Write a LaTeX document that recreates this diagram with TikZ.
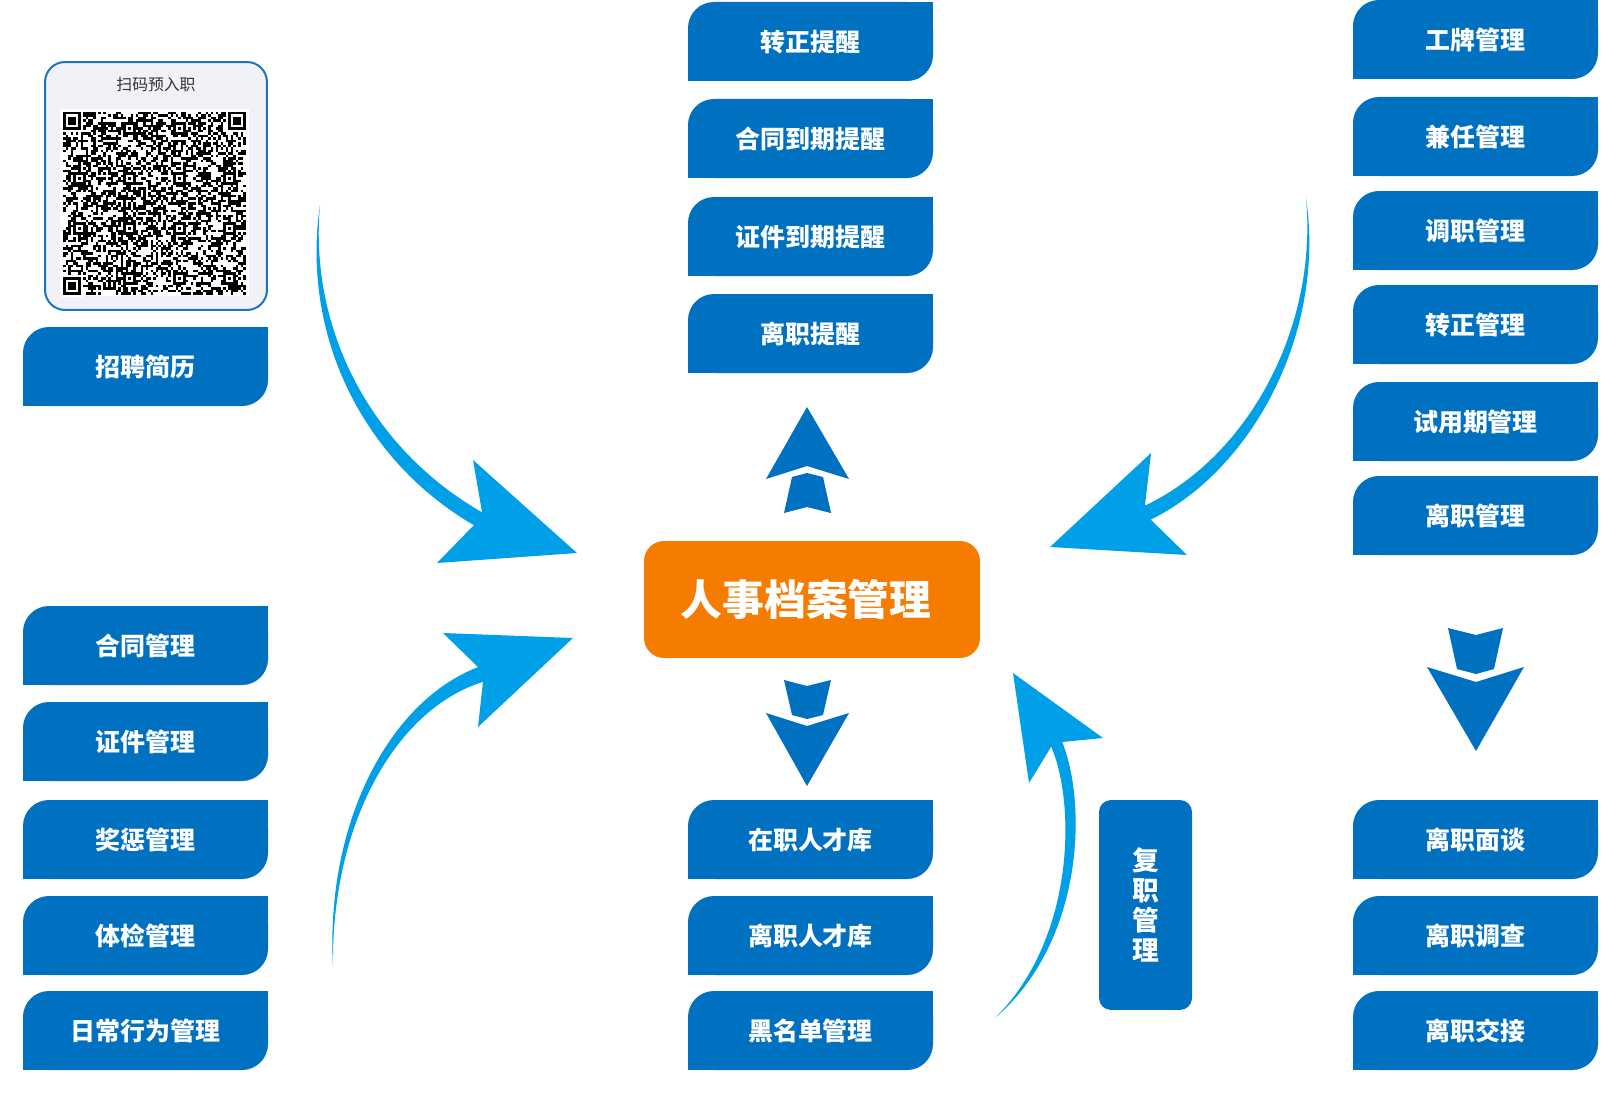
\documentclass[tikz,border=0pt]{standalone}
\usepackage{fontspec}
\newfontfamily\cjk{Noto Sans CJK SC}
\usetikzlibrary{calc}
\definecolor{boxblue}{RGB}{0,112,192}
\definecolor{arrowblue}{RGB}{0,160,233}
\definecolor{orng}{RGB}{245,124,0}
\definecolor{qrbg}{RGB}{240,242,247}
\definecolor{qrborder}{RGB}{28,117,188}
\definecolor{captiongray}{RGB}{50,50,50}
\newcommand\bluebox[4]{%
  \fill[boxblue,rounded corners=0.52cm] (#2,#3) rectangle ++(245,79);
  \fill[boxblue] ($(#2,#3)+(195,0)$) rectangle ++(50,50);
  \fill[boxblue] ($(#2,#3)+(0,29)$) rectangle ++(50,50);
  \node[boxtext] (#1) at ($(#2,#3)+(122.5,40)$) {#4};
}
\begin{document}
\begin{tikzpicture}[x=0.02cm,y=-0.02cm,
  boxtext/.style={text=white,inner sep=0pt,font=\cjk\bfseries\fontsize{14.2pt}{16pt}\selectfont},
  curvearrow/.style={fill=arrowblue},
  straightarrow/.style={fill=boxblue}]
\fill[white] (0,0) rectangle (1622,1115);
\useasboundingbox (0,0) rectangle (1622,1115);

% ---------- QR panel ----------
\node[draw=qrborder,fill=qrbg,line width=0.04cm,rounded corners=0.4cm,
      minimum width=4.44cm,minimum height=4.96cm,inner sep=0pt] (qr) at (156,186) {};
\node[text=captiongray,inner sep=0pt,font=\cjk\fontsize{9pt}{10pt}\selectfont] (qrcap) at (156,85) {扫码预入职};
\fill[white] (60,109) rectangle (249,296);
\pgfmathsetseed{4242}
\foreach \i in {0,...,72}{\foreach \j in {0,...,72}{%
  \pgfmathrandominteger{\rr}{0}{1}%
  \ifnum\rr=1 \fill[black] (63+\i*2.5,112+\j*2.5) rectangle ++(2.5,2.5);\fi
}}
\foreach \fx/\fy in {0/0,66/0,0/66}{%
  \fill[white] (63+\fx*2.5-2.5,112+\fy*2.5-2.5) rectangle ++(22.5,22.5);
  \fill[black] (63+\fx*2.5,112+\fy*2.5) rectangle ++(17.5,17.5);
  \fill[white] (63+\fx*2.5+2.5,112+\fy*2.5+2.5) rectangle ++(12.5,12.5);
  \fill[black] (63+\fx*2.5+5,112+\fy*2.5+5) rectangle ++(7.5,7.5);
}
\foreach \cx/\cy in {26/6,46/6,6/26,26/26,46/26,66/26,6/46,26/46,46/46,66/46,26/66,46/66,66/66}{%
  \fill[black] (63+\cx*2.5-5,112+\cy*2.5-5) rectangle ++(12.5,12.5);
  \fill[white] (63+\cx*2.5-2.5,112+\cy*2.5-2.5) rectangle ++(7.5,7.5);
  \fill[black] (63+\cx*2.5,112+\cy*2.5) rectangle ++(2.5,2.5);
}

% ---------- blue boxes ----------
\bluebox{l0}{23}{327}{招聘简历}
\bluebox{l1}{23}{606}{合同管理}
\bluebox{l2}{23}{702}{证件管理}
\bluebox{l3}{23}{800}{奖惩管理}
\bluebox{l4}{23}{896}{体检管理}
\bluebox{l5}{23}{991}{日常行为管理}

\bluebox{m1}{688}{2}{转正提醒}
\bluebox{m2}{688}{99}{合同到期提醒}
\bluebox{m3}{688}{197}{证件到期提醒}
\bluebox{m4}{688}{294}{离职提醒}
\bluebox{m5}{688}{800}{在职人才库}
\bluebox{m6}{688}{896}{离职人才库}
\bluebox{m7}{688}{991}{黑名单管理}

\bluebox{r1}{1353}{0}{工牌管理}
\bluebox{r2}{1353}{97}{兼任管理}
\bluebox{r3}{1353}{191}{调职管理}
\bluebox{r4}{1353}{285}{转正管理}
\bluebox{r5}{1353}{382}{试用期管理}
\bluebox{r6}{1353}{476}{离职管理}
\bluebox{r7}{1353}{800}{离职面谈}
\bluebox{r8}{1353}{896}{离职调查}
\bluebox{r9}{1353}{991}{离职交接}

% ---------- central node ----------
\node[fill=orng,rounded corners=0.4cm,minimum width=6.72cm,minimum height=2.34cm,
      inner sep=0pt,text=white,font=\cjk\bfseries\fontsize{23.8pt}{26pt}\selectfont]
      (center) at (812,599.5) {\hspace*{-0.24cm}人事档案管理};

% ---------- 复职管理 ----------
\node[fill=boxblue,rounded corners=0.24cm,minimum width=1.86cm,minimum height=4.2cm,
      inner sep=0pt,text=white,align=center,
      font=\cjk\bfseries\fontsize{15.2pt}{17.2pt}\selectfont]
      (fz) at (1145.5,905) {复\\职\\管\\理};

% ---------- straight arrows ----------
\fill[straightarrow] (807,407) -- (849,479) -- (807,466) -- (766,479) -- cycle;
\fill[straightarrow] (792,477) -- (807,473) -- (823,477) -- (831,513) -- (807,507) -- (784,513) -- cycle;

\fill[straightarrow] (784,680) -- (807,686) -- (831,680) -- (823,715) -- (807,719) -- (792,715) -- cycle;
\fill[straightarrow] (766,713) -- (807,726) -- (849,713) -- (807,786) -- cycle;

\fill[straightarrow] (1448,628) -- (1476,635) -- (1503,628) -- (1494,669) -- (1476,674) -- (1457,669) -- cycle;
\fill[straightarrow] (1427,667) -- (1476,682) -- (1524,667) -- (1476,751) -- cycle;

% ---------- curved arrows ----------
% top-left
\fill[curvearrow] (320,205) .. controls (301,333) and (361,461) .. (477,527)
   -- (485,514) .. controls (369,449) and (309,327) .. (320,205) -- cycle;
\fill[curvearrow] (473,460) -- (577,553) -- (437,563) -- (474,525) -- (482,512) -- cycle;
% top-right
\fill[curvearrow] (1306,198) .. controls (1326,331) and (1253,471) .. (1148,521)
   -- (1142,507) .. controls (1247,459) and (1318,329) .. (1306,198) -- cycle;
\fill[curvearrow] (1151,453) -- (1050,547) -- (1187,555) -- (1151,520) -- (1145,505) -- cycle;
% bottom-left
\fill[curvearrow] (333,967) .. controls (325,819) and (392,698) .. (481,666)
   -- (486,681) .. controls (398,706) and (331,821) .. (333,967) -- cycle;
\fill[curvearrow] (443,633) -- (573,638) -- (478,727) -- (483,682) -- (478,667) -- cycle;
% bottom-right
\fill[curvearrow] (995,1018) .. controls (1084,942) and (1088,802) .. (1061,739)
   -- (1050,744) .. controls (1076,800) and (1076,938) .. (995,1018) -- cycle;
\fill[curvearrow] (1013,673) -- (1103,738) -- (1062,742) -- (1051,747) -- (1029,783) -- cycle;
\end{tikzpicture}
\end{document}
